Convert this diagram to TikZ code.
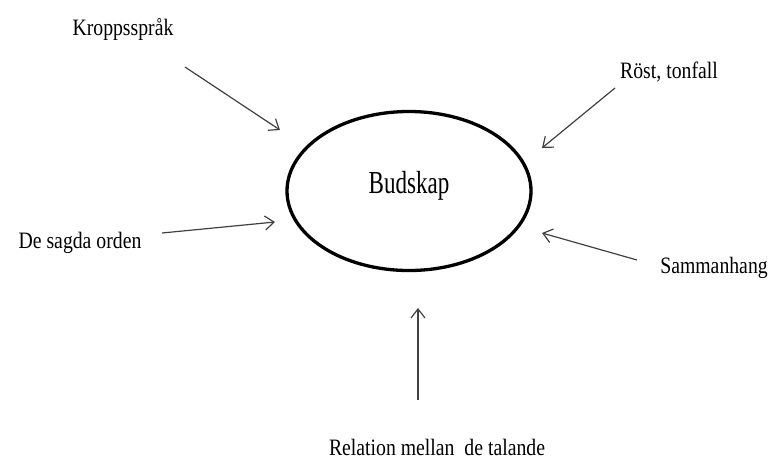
\documentclass[tikz,border=0pt]{standalone}
\usepackage{fontspec}
\setmainfont{Liberation Serif}[FakeStretch=0.84]
\newfontfamily\budfont{Liberation Serif}[FakeStretch=0.72]
\usetikzlibrary{arrows.meta,shapes.geometric}
\tikzset{
    word/.style =   {rectangle,
                    text=black,
                    inner sep=0pt,
                    font=\fontsize{23.5}{26}\selectfont},
    blob/.style =   {ellipse,
                    draw=black,
                    text=black,
                    line width=3.3pt,
                    minimum width=244pt,
                    minimum height=159pt,
                    text depth=18pt,
                    font=\budfont\fontsize{32}{36}\selectfont},
    -,
    >={Straight Barb[length=9pt,width=14pt]},
    every edge/.append style={draw=white!25!black}}

\begin{document}
\begin{tikzpicture}[x=1pt,y=-1pt]
                \useasboundingbox (0,0) rectangle (769,459);
                \node[blob]   (B) at (409,191)  {Budskap};
                \node[word]   (K) at (123,29)   {Kroppsspråk};
                \node[word]   (R) at (669,72)   {Röst, tonfall};
                \node[word]   (D) at (80,243)   {De sagda orden};
                \node[word]   (S) at (714,268)  {Sammanhang};
                \node[word]   (L) at (437,447)  {Relation mellan\ \ de talande};
                \coordinate   (k1) at (185,67);   \coordinate (k2) at (280,130);
                \coordinate   (r1) at (615,88);   \coordinate (r2) at (542,148);
                \coordinate   (d1) at (162,233);  \coordinate (d2) at (275,222);
                \coordinate   (s1) at (637,260);  \coordinate (s2) at (542,233);
                \coordinate   (l1) at (418,400);  \coordinate (l2) at (418,308);
                \path [line width=1.2pt,->]
                                        (k1) edge (k2)
                                        (r1) edge (r2)
                                        (d1) edge (d2)
                                        (s1) edge (s2)
                                        (l1) edge (l2);
        \end{tikzpicture}
\end{document}
